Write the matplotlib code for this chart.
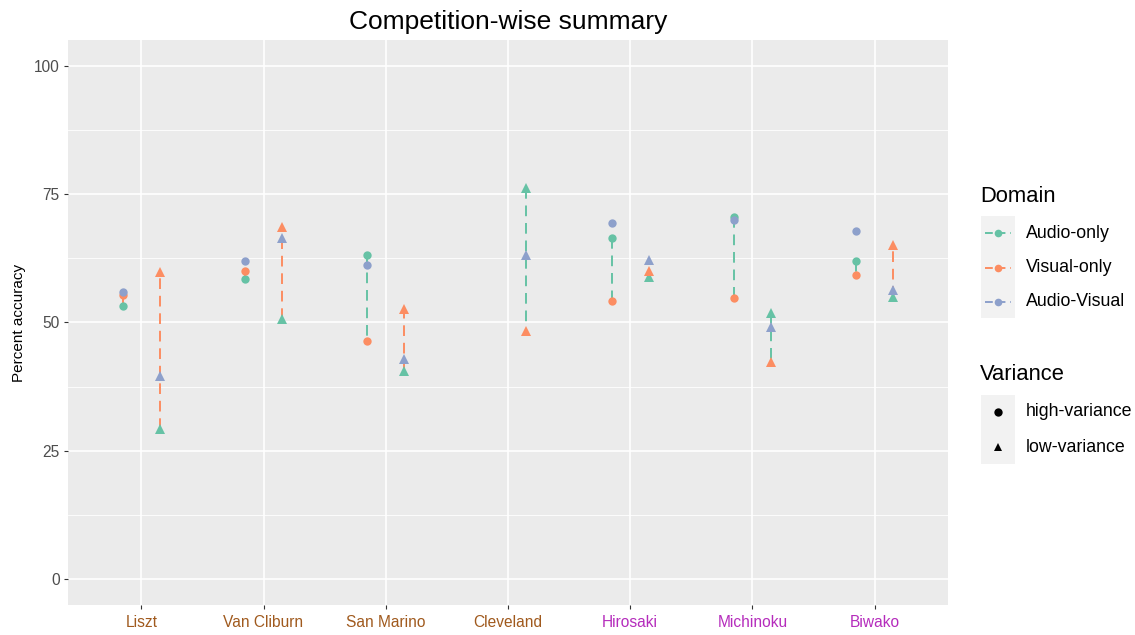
import numpy as np
import matplotlib.pyplot as plt
from matplotlib.patches import Rectangle
from matplotlib.lines import Line2D

plt.rcParams['font.family'] = ['Liberation Sans', 'DejaVu Sans']

competitions = ['Liszt', 'Van Cliburn', 'San Marino', 'Cleveland', 'Hirosaki', 'Michinoku', 'Biwako']
label_colors = ['#a05a1e'] * 4 + ['#b52cbc'] * 3
domains = ['Audio-only', 'Visual-only', 'Audio-Visual']
variances = ['high-variance', 'low-variance']

# percent accuracy per competition, high-variance set
high_ao = [53.2, 58.4, 63.2, np.nan, 66.5, 70.5, 61.9]
high_vo = [55.4, 60.0, 46.4, np.nan, 54.1, 54.8, 59.3]
high_av = [55.9, 61.9, 61.2, np.nan, 69.4, 70.0, 67.8]
# low-variance set
low_ao = [29.3, 50.7, 40.5, 76.2, 58.8, 51.8, 55.0]
low_vo = [59.9, 68.6, 52.7, 48.3, 60.1, 42.3, 65.0]
low_av = [39.6, 66.5, 42.8, 63.1, 62.1, 49.2, 56.3]

cols = {'Audio-only': '#66C2A5', 'Visual-only': '#FC8D62', 'Audio-Visual': '#8DA0CB'}
markers = {'high-variance': 'o', 'low-variance': '^'}
msize = {'high-variance': 6.0, 'low-variance': 7.0}
dodge = {'high-variance': -0.15, 'low-variance': 0.15}

data = {
    'high-variance': {'Audio-only': high_ao, 'Visual-only': high_vo, 'Audio-Visual': high_av},
    'low-variance': {'Audio-only': low_ao, 'Visual-only': low_vo, 'Audio-Visual': low_av},
}

W, H = 1135, 635
fig = plt.figure(figsize=(W / 100, H / 100), dpi=100)
fig.patch.set_facecolor('white')
ax = fig.add_axes([68 / W, 1 - 605 / H, (948 - 68) / W, (605 - 40) / H])
ax.set_facecolor('#EBEBEB')

x = np.arange(1, len(competitions) + 1)

# grid
for yv in [12.5, 37.5, 62.5, 87.5]:
    ax.axhline(yv, color='white', lw=0.6, zorder=0)
for yv in [0, 25, 50, 75, 100]:
    ax.axhline(yv, color='white', lw=1.2, zorder=0)
for xv in x:
    ax.axvline(xv, color='white', lw=1.2, zorder=0)

# segments between audio-only and visual-only
for v in variances:
    ao = np.array(data[v]['Audio-only'])
    vo = np.array(data[v]['Visual-only'])
    for i in range(len(x)):
        if np.isnan(ao[i]):
            continue
        c = cols['Audio-only'] if ao[i] >= vo[i] else cols['Visual-only']
        ax.plot([x[i] + dodge[v]] * 2, [ao[i], vo[i]], color=c, lw=1.4,
                ls=(0, (5.5, 3.5)), zorder=2)

# points
for v in variances:
    for d in domains:
        ax.plot(x + dodge[v], data[v][d], ls='none', marker=markers[v], ms=msize[v],
                color=cols[d], markeredgewidth=0, zorder=3)

ax.set_xlim(0.4, 7.6)
ax.set_ylim(-5, 105)
ax.set_yticks([0, 25, 50, 75, 100])
ax.set_xticks(x)
ax.set_xticklabels(competitions)
for lab, c in zip(ax.get_xticklabels(), label_colors):
    lab.set_color(c)
ax.tick_params(axis='x', labelsize=11.2, length=3, width=0.8, color='#333333', pad=4)
ax.tick_params(axis='y', labelsize=11.2, labelcolor='#4D4D4D', length=3, width=0.8, color='#333333', pad=3)
for s in ax.spines.values():
    s.set_visible(False)
ax.set_ylabel('Percent accuracy', fontsize=11, labelpad=6)
ax.set_title('Competition-wise summary', fontsize=19, pad=8)

# legend drawn in pixel coordinates
lg = fig.add_axes([0, 0, 1, 1], facecolor='none')
lg.set_xlim(0, W)
lg.set_ylim(H, 0)
lg.axis('off')

lg.text(980, 196, 'Domain', fontsize=15.8, va='center', ha='left')
lg.add_patch(Rectangle((981, 216), 34, 102, color='#F2F2F2', lw=0))
for k, d in enumerate(domains):
    yk = 233 + k * 34.5
    lg.add_line(Line2D([985, 1011], [yk, yk], color=cols[d], lw=1.4, ls=(0, (4, 2.5))))
    lg.plot([998], [yk], marker='o', ms=5.5, color=cols[d], markeredgewidth=0)
    lg.text(1026, yk, d, fontsize=12.8, va='center', ha='left')

lg.text(980, 375, 'Variance', fontsize=15.8, va='center', ha='left')
lg.add_patch(Rectangle((981, 395), 34, 69, color='#F2F2F2', lw=0))
for k, v in enumerate(variances):
    yk = 412 + k * 35
    lg.plot([998], [yk], marker=markers[v], ms=6, color='black', markeredgewidth=0)
    lg.text(1026, yk, v, fontsize=12.8, va='center', ha='left')

fig.savefig('out.png', dpi=100)
